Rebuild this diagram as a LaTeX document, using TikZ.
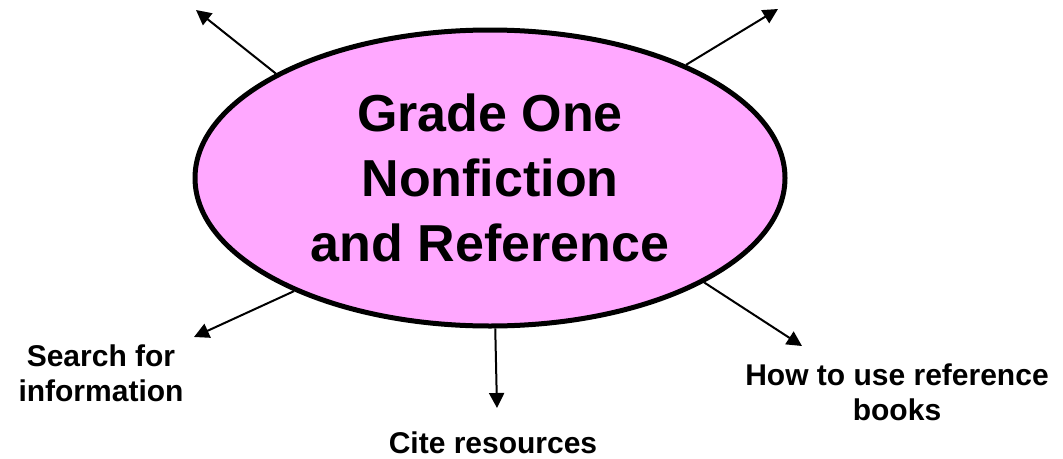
\documentclass[tikz,border=0pt]{standalone}
\usepackage{fontspec}
\setmainfont{Liberation Sans}
\usetikzlibrary{positioning}
\usetikzlibrary{shapes.geometric}
\usetikzlibrary{arrows.meta}
\definecolor{pinkfill}{RGB}{255,168,255}
\tikzset{
  topic/.style={ellipse, draw=black, line width=5pt, fill=pinkfill,
    minimum width=590pt, minimum height=296pt, inner sep=0pt, align=center,
    font=\bfseries\fontsize{52}{65}\selectfont},
  branch/.style={black, line width=2pt, -{Triangle[length=15pt,width=15pt]}},
  leaf/.style={align=center, inner sep=0pt, font=\bfseries\fontsize{30}{35}\selectfont},
}

\begin{document}
\begin{tikzpicture}[x=1pt,y=-1pt]
		\useasboundingbox (0,0) rectangle (1063,458);
		\node[topic] (core) at (490,178) {Grade One\\Nonfiction\\and Reference};
		%
		\coordinate (tipNW) at (196,10);
		\coordinate (tipNE) at (778,9);
		\coordinate (tipSW) at (194,337);
		\coordinate (tipS) at (497,408);
		\coordinate (tipSE) at (802,346);
		\draw[branch] (core.154) -- (tipNW);
		\draw[branch] (core.30) -- (tipNE);
		\draw[branch] (core.210) -- (tipSW);
		\draw[branch] (core.272) -- (tipS);
		\draw[branch] (core.334) -- (tipSE);
		%
		\node[leaf] (search) at (101,373) {Search for\\information};
		\node[leaf, anchor=base] (cite) at (493,453) {Cite resources};
		\node[leaf] (howto) at (897,392) {How to use reference\\books};
	\end{tikzpicture}
\end{document}
